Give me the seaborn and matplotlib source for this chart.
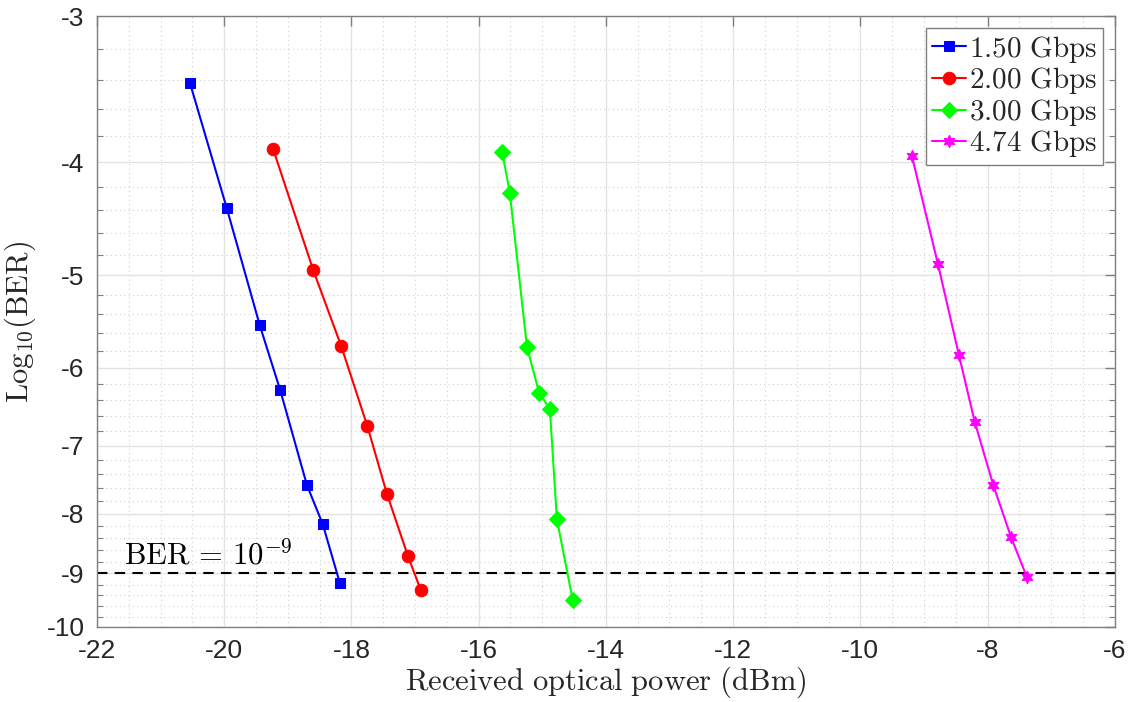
import numpy as np
import pandas as pd
import matplotlib
matplotlib.use("Agg")
import matplotlib.pyplot as plt
import matplotlib.ticker as mticker
import seaborn as sns

# ---- data ----
series_labels = ["1.50 Gbps", "2.00 Gbps", "3.00 Gbps", "4.74 Gbps"]
power_150 = [-20.54, -19.96, -19.44, -19.12, -18.70, -18.45, -18.18]
logber_150 = [-3.42, -4.38, -5.52, -6.27, -7.56, -8.17, -9.18]
power_200 = [-19.23, -18.60, -18.16, -17.75, -17.44, -17.11, -16.91]
logber_200 = [-3.90, -4.95, -5.75, -6.73, -7.70, -8.70, -9.30]
power_300 = [-15.63, -15.51, -15.24, -15.05, -14.88, -14.77, -14.52]
logber_300 = [-3.92, -4.25, -5.76, -6.30, -6.51, -8.09, -9.49]
power_474 = [-9.19, -8.78, -8.45, -8.20, -7.91, -7.63, -7.38]
logber_474 = [-3.95, -4.89, -5.85, -6.68, -7.56, -8.38, -9.07]
threshold = -9
y_ticks = [-3, -4, -5, -6, -7, -8, -9, -10]
x_ticks = [-22, -20, -18, -16, -14, -12, -10, -8, -6]

frames = []
for lab, p, b in zip(series_labels,
                     [power_150, power_200, power_300, power_474],
                     [logber_150, logber_200, logber_300, logber_474]):
    frames.append(pd.DataFrame({"power": p, "logber": b, "rate": lab}))
df = pd.concat(frames, ignore_index=True)
df["neglog"] = -df["logber"]

sns.set_style("white")
plt.rcParams["mathtext.fontset"] = "cm"
plt.rcParams["font.family"] = ["Liberation Sans", "DejaVu Sans"]
plt.rcParams["axes.unicode_minus"] = False

fig = plt.figure(figsize=(11.41, 7.02), dpi=100)
ax = fig.add_axes([0.085, 0.107, 0.892, 0.870])

palette = {"1.50 Gbps": "#0000ff", "2.00 Gbps": "#ff0000",
           "3.00 Gbps": "#00ff00", "4.74 Gbps": "#ff00ff"}
markers = {"1.50 Gbps": "s", "2.00 Gbps": "o",
           "3.00 Gbps": "D", "4.74 Gbps": (6, 1, 0)}
msize = {"1.50 Gbps": 7, "2.00 Gbps": 9, "3.00 Gbps": 8, "4.74 Gbps": 9}

for lab in series_labels:
    sub = df[df["rate"] == lab]
    sns.lineplot(data=sub, x="power", y="neglog", ax=ax, color=palette[lab],
                 marker=markers[lab], markersize=msize[lab],
                 markeredgecolor=palette[lab], markerfacecolor=palette[lab],
                 linewidth=1.5, sort=False, label=lab, zorder=3)

ax.axhline(-threshold, color="black", linestyle=(0, (5, 3.5)), linewidth=1.5, zorder=2)
ax.text(-21.58, 8.83, r"$\mathrm{BER}\,=\,10^{-9}$", fontsize=22, va="baseline",
        ha="left", color="black")

ax.set_yscale("log")
ax.set_ylim(10, 3)
ax.set_xlim(-22, -6)

ax.yaxis.set_major_locator(mticker.FixedLocator([-v for v in y_ticks]))
ax.yaxis.set_major_formatter(mticker.FixedFormatter([str(v) for v in y_ticks]))
minor_y = [a + f for a in range(3, 10) for f in (0.2, 0.4, 0.6, 0.8)]
ax.yaxis.set_minor_locator(mticker.FixedLocator(minor_y))
ax.yaxis.set_minor_formatter(mticker.NullFormatter())

ax.xaxis.set_major_locator(mticker.FixedLocator(x_ticks))
ax.xaxis.set_major_formatter(mticker.FixedFormatter([str(v) for v in x_ticks]))
ax.xaxis.set_minor_locator(mticker.MultipleLocator(0.5))

ax.grid(which="major", color="#e3e3e3", linewidth=1.0, linestyle="-", zorder=0)
ax.grid(which="minor", color="#cfcfcf", linewidth=0.8, linestyle=(0, (1, 3)), zorder=0)
ax.set_axisbelow(True)

for s in ax.spines.values():
    s.set_color("#7f7f7f")
    s.set_linewidth(1.0)

ax.tick_params(which="major", direction="in", length=7, width=1.0, color="#7f7f7f",
               top=True, right=True, labelsize=19, labelcolor="#262626", pad=9)
ax.tick_params(which="minor", direction="in", length=4, width=0.8, color="#7f7f7f",
               top=False, right=True, left=True, bottom=False)

ax.set_xlabel(r"$\mathrm{Received\ optical\ power\ (dBm)}$", fontsize=22, labelpad=1)
ax.set_ylabel(r"$\mathrm{Log}_{10}\mathrm{(BER)}$", fontsize=22, labelpad=6)

leg = ax.legend(loc="upper right", frameon=True, fancybox=False,
                edgecolor="#7f7f7f", framealpha=1.0, borderpad=0.2,
                labelspacing=0.02, handlelength=1.15, handletextpad=0.12,
                borderaxespad=0.4, prop={"family": "serif", "size": 21})
leg.get_frame().set_linewidth(1.0)
for t in leg.get_texts():
    t.set_text(r"$\mathrm{" + t.get_text().replace(" ", r"\ ") + "}$")

fig.savefig("out.png", dpi=100, facecolor="white")
